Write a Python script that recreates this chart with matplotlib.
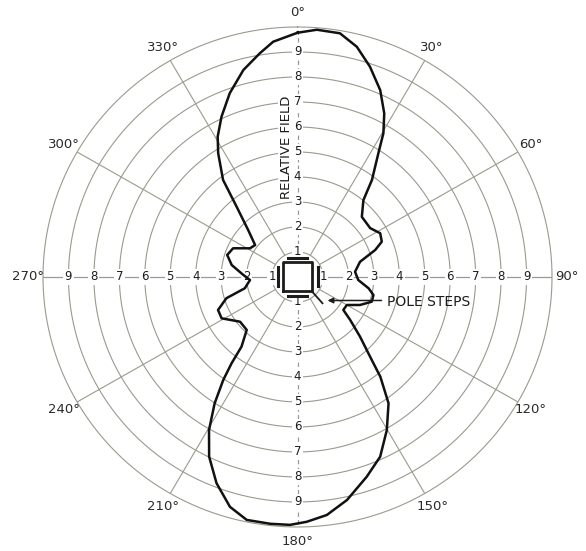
import numpy as np
import matplotlib.pyplot as plt

# horizontal field pattern: bearing (deg, clockwise from 0) and relative field
bearing = [0, 4.4, 9.7, 14.2, 18.7, 23.5, 27.5, 30.4, 32.7, 37.0, 40.1, 46.4,
           55.6, 61.7, 66.9, 70.5, 76.1, 84.7, 92.9, 99.2, 103.6, 108.7, 114.5,
           120.0, 126.2, 129.7, 134.2, 138.2, 140.8, 144.7, 150.2, 155.7, 161.2,
           167.7, 173.1, 177.9, 181.7, 186.2, 191.6, 196.1, 201.1, 205.8, 209.6,
           212.8, 215.3, 216.9, 218.3, 223.3, 231.6, 241.0, 247.1, 253.1, 257.7,
           266.3, 272.2, 280.5, 287.7, 294.4, 301.6, 307.5, 314.1, 319.6, 323.0,
           327.8, 330.8, 335.0, 340.1, 345.6, 350.6, 354.2, 360]
field = [9.77, 9.92, 9.89, 9.50, 8.88, 8.15, 7.38, 6.67, 5.88, 4.86, 4.02, 3.49,
         3.46, 3.69, 3.60, 3.24, 2.53, 2.27, 2.39, 2.83, 3.07, 3.08, 2.70,
         2.24, 2.23, 2.69, 3.43, 4.28, 5.15, 6.19, 7.06, 7.89, 8.44,
         9.13, 9.59, 9.80, 9.92, 9.93, 9.92, 9.57, 8.84, 7.98, 7.04,
         6.01, 5.05, 4.31, 3.55, 2.91, 2.88, 3.41, 3.39, 2.92, 2.12,
         1.87, 2.13, 2.63, 2.90, 2.78, 2.19, 2.10, 2.70, 3.69, 4.86,
         5.85, 6.43, 7.07, 7.82, 8.55, 9.07, 9.46, 9.77]

rings = [1, 2, 3, 4, 5, 6, 7, 8, 9, 10]
ring_labels = ['1', '2', '3', '4', '5', '6', '7', '8', '9']
spokes = [30, 60, 120, 150, 210, 240, 300, 330]
deg_marks = [0, 30, 60, 90, 120, 150, 180, 210, 240, 270, 300, 330]

grid_col = '#9a9a8e'
ink = '#1c1c1c'

fig = plt.figure(figsize=(5.86, 5.51), dpi=100)
rect = [0.0734, 0.0436, 0.8686, 0.9074]

ax = fig.add_axes(rect, projection='polar')
ax.set_aspect('auto')
ax.set_theta_zero_location('N')
ax.set_theta_direction(-1)
ax.set_ylim(0, 10)
ax.set_xticks([])
ax.set_yticks([])
ax.grid(False)
ax.spines['polar'].set_visible(False)

# range circles
full = np.linspace(0, 2 * np.pi, 721)
for r in rings:
    ax.plot(full, np.full_like(full, r), color=grid_col, lw=0.8, zorder=1,
            clip_on=False)

# 30 deg spokes
for a in spokes:
    ax.plot([np.radians(a)] * 2, [1, 10], color=grid_col, lw=0.8, zorder=1)

# main axes carry the scale numbers
for a in [0, 180]:
    ax.plot([np.radians(a)] * 2, [1, 10], color=grid_col, lw=0.9,
            ls=(0, (3.5, 2.5)), zorder=1)
for a in [90, 270]:
    ax.plot([np.radians(a)] * 2, [1, 10], color=grid_col, lw=0.9, zorder=1)
for a in [0, 90, 180, 270]:
    for i, lab in enumerate(ring_labels, start=1):
        ax.text(np.radians(a), i, lab, ha='center', va='center', fontsize=8.5,
                color=ink, zorder=3,
                bbox=dict(boxstyle='square,pad=0.15', fc='white', ec='none'))

for d in deg_marks:
    ax.text(np.radians(d), 10.58, f'{d}\u00b0', ha='center', va='center',
            fontsize=9.5, color='#2a2a2a', clip_on=False)

ax.text(np.radians(355.1), 5.22, 'RELATIVE FIELD', rotation=90, ha='center',
        va='center', fontsize=9.5, color=ink, zorder=3,
        bbox=dict(boxstyle='square,pad=0.1', fc='white', ec='none'))

# the pattern itself
ax.plot(np.radians(bearing), field, color='#111111', lw=1.8, zorder=4,
        clip_on=False)

# cartesian overlay for the mast section and pole steps
ov = fig.add_axes(rect)
ov.set_xlim(-10, 10)
ov.set_ylim(-10, 10)
ov.axis('off')
ov.plot([-0.57, 0.57, 0.57, -0.57, -0.57], [-0.58, -0.58, 0.58, 0.58, -0.58],
        color=ink, lw=2)
ov.plot([-0.36, 0.36], [0.76, 0.76], color=ink, lw=2.2)
ov.plot([-0.36, 0.36], [-0.76, -0.76], color=ink, lw=2.2)
ov.plot([-0.78, -0.78], [-0.38, 0.38], color=ink, lw=2.2)
ov.plot([0.8, 0.8], [-0.38, 0.38], color=ink, lw=2.2)
ov.plot([0.57, 0.98], [-0.58, -1.05], color=ink, lw=1.3)
ov.annotate('', xy=(1.18, -0.94), xytext=(3.3, -0.94),
            arrowprops=dict(arrowstyle='-|>', color=ink, lw=1.1,
                            mutation_scale=8, shrinkA=0, shrinkB=0))
ov.text(3.52, -0.99, 'POLE STEPS', ha='left', va='center', fontsize=10,
        color=ink)

fig.savefig('out.png', dpi=100)
